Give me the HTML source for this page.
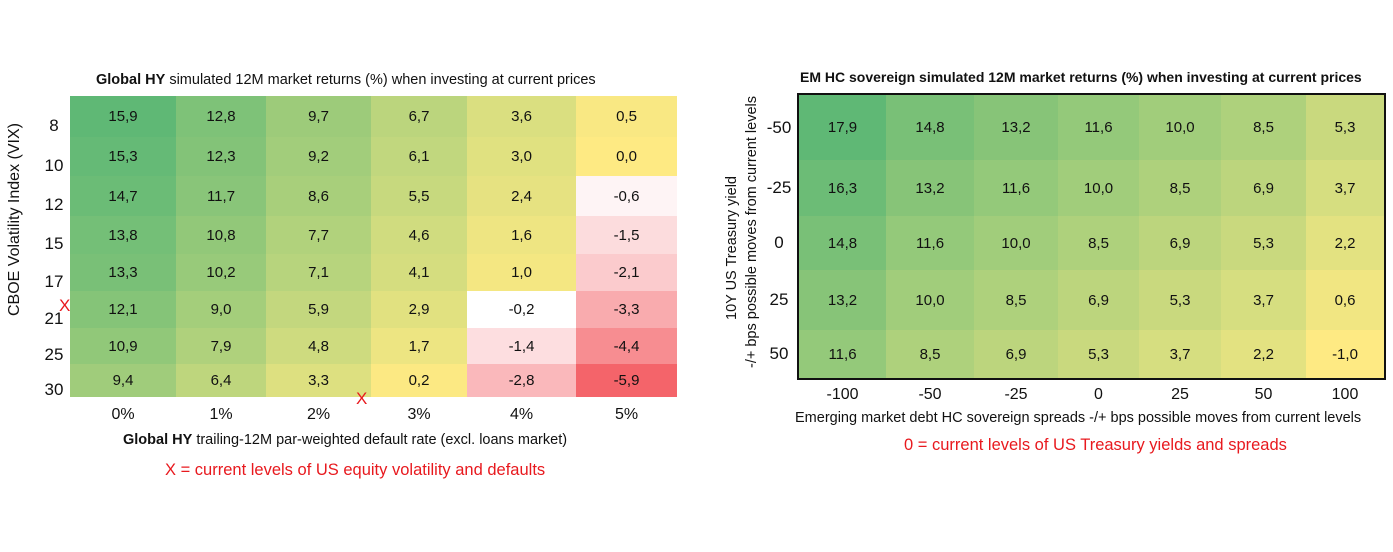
<!DOCTYPE html>
<html><head><meta charset="utf-8">
<style>
body{margin:0;width:1393px;height:552px;background:#fff;font-family:"Liberation Sans",sans-serif;position:relative;overflow:hidden;color:#111}
.t{position:absolute;white-space:nowrap}
.c{position:absolute;display:flex;align-items:center;justify-content:center;font-size:15px}
.r{color:#e8191e}
</style></head><body>
<div class="t" style="left:96px;top:72px;font-size:14.5px">
<b>Global HY</b> simulated 12M market returns (%) when investing at current prices</div>
<div class="t" style="left:800px;top:69px;font-size:14px;font-weight:bold">EM HC sovereign simulated 12M market returns (%) when investing at current prices</div>
<div id="L"></div><div id="R"></div>
<div class="t" style="left:-60px;top:232px;font-size:16px;transform:rotate(-90deg);width:150px;text-align:center">CBOE Volatility Index (VIX)</div>
<div class="t" style="left:622px;top:228px;font-size:14.5px;transform:rotate(-90deg);width:240px;text-align:center;line-height:20px">10Y US Treasury yield<br>-/+ bps possible moves from current levels</div>
<div class="t" style="left:123px;top:432px;font-size:14.5px"><b>Global HY</b> trailing-12M par-weighted default rate (excl. loans market)</div>
<div class="t r" style="left:165px;top:461px;font-size:16.5px">X = current levels of US equity volatility and defaults</div>
<div class="t" style="left:795px;top:410px;font-size:14.5px">Emerging market debt HC sovereign spreads -/+ bps possible moves from current levels</div>
<div class="t r" style="left:904px;top:436px;font-size:16.5px">0 = current levels of US Treasury yields and spreads</div>
<div class="t r" style="left:59px;top:296px;font-size:17px">X</div>
<div class="t r" style="left:356px;top:389px;font-size:17px">X</div>
<div style="position:absolute;left:797px;top:93px;width:585px;height:283px;border:2px solid #111"></div>
<script>
function mix(a,b,t){return 'rgb('+a.map((x,i)=>Math.round(x+(b[i]-x)*t)).join(',')+')'}
const G=[95,184,117],Y=[254,234,131],W=[255,255,255],Rd=[244,100,106];
const L=document.getElementById('L'),R=document.getElementById('R');
const lv=[[15.9,12.8,9.7,6.7,3.6,0.5],[15.3,12.3,9.2,6.1,3.0,0.0],[14.7,11.7,8.6,5.5,2.4,-0.6],[13.8,10.8,7.7,4.6,1.6,-1.5],[13.3,10.2,7.1,4.1,1.0,-2.1],[12.1,9.0,5.9,2.9,-0.2,-3.3],[10.9,7.9,4.8,1.7,-1.4,-4.4],[9.4,6.4,3.3,0.2,-2.8,-5.9]];
const lx=[70,176,266,371,467,576,677],ly=[96,137,176,216,254,291,328,364,397];
const lrows=['8','10','12','15','17','21','25','30'],lcols=['0%','1%','2%','3%','4%','5%'];
let h='';
lv.forEach((row,i)=>{row.forEach((v,j)=>{let col=v>=0?mix(Y,G,v/15.9):mix(W,Rd,Math.max(0,(-v-0.2)/5.7));
h+=`<div class="c" style="left:${lx[j]}px;top:${ly[i]}px;width:${lx[j+1]-lx[j]}px;height:${ly[i+1]-ly[i]}px;background:${col}">${v.toFixed(1).replace('.',',')}</div>`;});
h+=`<div class="c" style="left:40px;top:${ly[i]+9}px;width:28px;height:${ly[i+1]-ly[i]}px;font-size:17px">${lrows[i]}</div>`;});
lcols.forEach((c,j)=>h+=`<div class="c" style="left:${lx[j]}px;top:401px;width:${lx[j+1]-lx[j]}px;height:28px;font-size:16px">${c}</div>`);
L.innerHTML=h;
const rv=[[17.9,14.8,13.2,11.6,10.0,8.5,5.3],[16.3,13.2,11.6,10.0,8.5,6.9,3.7],[14.8,11.6,10.0,8.5,6.9,5.3,2.2],[13.2,10.0,8.5,6.9,5.3,3.7,0.6],[11.6,8.5,6.9,5.3,3.7,2.2,-1.0]];
const rx=[799,886,974,1058,1139,1221,1306,1384],ry=[95,160,216,270,330,378];
const rrows=['-50','-25','0','25','50'],rcols=['-100','-50','-25','0','25','50','100'];
h='';
rv.forEach((row,i)=>{row.forEach((v,j)=>{let col=mix(Y,G,(v+1)/18.9);
h+=`<div class="c" style="left:${rx[j]}px;top:${ry[i]}px;width:${rx[j+1]-rx[j]}px;height:${ry[i+1]-ry[i]}px;background:${col}">${v.toFixed(1).replace('.',',')}</div>`;});
h+=`<div class="c" style="left:762px;top:${ry[i]}px;width:34px;height:${ry[i+1]-ry[i]}px;font-size:17px">${rrows[i]}</div>`;});
rcols.forEach((c,j)=>h+=`<div class="c" style="left:${rx[j]}px;top:381px;width:${rx[j+1]-rx[j]}px;height:28px;font-size:16px">${c}</div>`);
R.innerHTML=h;
</script>
</body></html>
